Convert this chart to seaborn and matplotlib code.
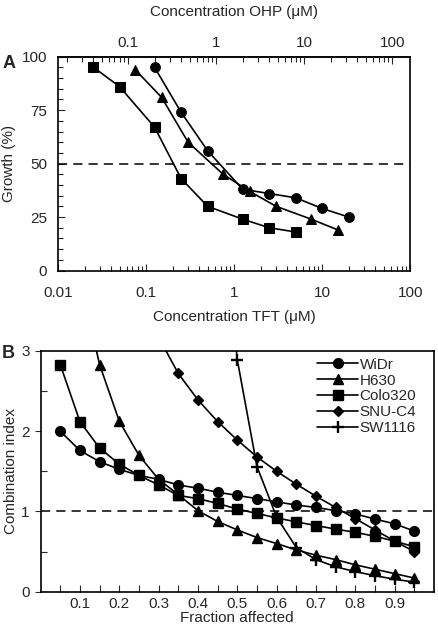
import numpy as np
import pandas as pd
import matplotlib
matplotlib.use("Agg")
import matplotlib.pyplot as plt
from matplotlib.ticker import LogLocator, FixedLocator, NullFormatter, MultipleLocator, FuncFormatter
import seaborn as sns

sns.set_style("ticks")
plt.rcParams['font.family'] = ['Liberation Sans', 'DejaVu Sans']
plt.rcParams['font.size'] = 11

# ---------- Panel A data ----------
tft_colo = [0.025, 0.05, 0.125, 0.25, 0.5, 1.25, 2.5, 5]
growth_colo = [95.2, 86, 67, 43, 30, 24, 20, 18]
tft_h630 = [0.075, 0.15, 0.3, 0.75, 1.5, 3, 7.5, 15]
growth_h630 = [94, 81, 60, 45, 37, 30, 24, 19]
tft_widr = [0.125, 0.25, 0.5, 1.25, 2.5, 5, 10, 20]
growth_widr = [95, 74, 56, 38, 36, 34, 29, 25]
ohp_per_tft = 1.6

# ---------- Panel B data ----------
fa_all = [0.05, 0.1, 0.15, 0.2, 0.25, 0.3, 0.35, 0.4, 0.45, 0.5,
          0.55, 0.6, 0.65, 0.7, 0.75, 0.8, 0.85, 0.9, 0.95]
ci_widr = [2.0, 1.76, 1.62, 1.525, 1.45, 1.40, 1.33, 1.29, 1.24, 1.20,
           1.16, 1.12, 1.08, 1.05, 1.01, 0.97, 0.905, 0.846, 0.755]
ci_colo = [2.83, 2.12, 1.79, 1.59, 1.45, 1.33, 1.20, 1.16, 1.10, 1.03,
           0.975, 0.92, 0.87, 0.825, 0.78, 0.74, 0.69, 0.63, 0.56]
fa_h630 = fa_all[1:]
ci_h630 = [3.9, 2.83, 2.125, 1.70, 1.40, 1.21, 1.01, 0.875, 0.77, 0.675,
           0.60, 0.52, 0.455, 0.40, 0.335, 0.28, 0.225, 0.17]
fa_snu = fa_all[5:]
ci_snu = [3.17, 2.72, 2.39, 2.12, 1.89, 1.68, 1.50, 1.34, 1.19, 1.05,
          0.91, 0.77, 0.63, 0.50]
fa_sw = fa_all[8:]
ci_sw = [5.3, 2.89, 1.56, 0.93, 0.55, 0.40, 0.31, 0.25, 0.20, 0.155, 0.12]

W, H = 438, 636
fig = plt.figure(figsize=(W / 100, H / 100), dpi=100)

def frac(l, t, r, b):
    return [l / W, 1 - b / H, (r - l) / W, (b - t) / H]

axA = fig.add_axes(frac(58, 56.7, 410.3, 270.5))
axB = fig.add_axes(frac(40.6, 351, 434, 591.7))

lw = 1.2
fmt_g = FuncFormatter(lambda v, p: f"{v:g}")
# ---------- Panel A ----------
axA.set_xscale('log')
sA = [(tft_colo, growth_colo, 's', 7), (tft_h630, growth_h630, '^', 7),
      (tft_widr, growth_widr, 'o', 7)]
for xs, ys, m, ms in sA:
    sns.lineplot(x=xs, y=ys, ax=axA, color='black', marker=m, markersize=ms,
                 markeredgecolor='black', linewidth=lw, estimator=None, sort=False)
axA.axhline(50, color='black', linestyle=(0, (6, 4)), linewidth=1.1)
axA.set_xlim(0.01, 100)
axA.set_ylim(0, 100)
axA.set_yticks([0, 25, 50, 75, 100])
axA.yaxis.set_minor_locator(MultipleLocator(5))
axA.xaxis.set_major_locator(LogLocator(base=10, numticks=10))
axA.xaxis.set_minor_locator(LogLocator(base=10, subs=np.arange(2, 10), numticks=10))
axA.xaxis.set_minor_formatter(NullFormatter())
axA.xaxis.set_major_formatter(fmt_g)
axA.tick_params(axis='both', which='major', direction='in', length=5, width=0.8,
                labelsize=11, top=False, right=False)
axA.tick_params(axis='x', which='major', pad=11)
axA.tick_params(axis='y', which='major', pad=8)
axA.tick_params(axis='both', which='minor', direction='in', length=3.5, width=0.8,
                top=False, right=False)
axA.set_xlabel('Concentration TFT (μM)', fontsize=11, labelpad=7)
axA.set_ylabel('Growth (%)', fontsize=11)
axA.yaxis.set_label_coords(-0.118, 0.5)
secA = axA.secondary_xaxis('top', functions=(lambda x: x * ohp_per_tft,
                                              lambda x: x / ohp_per_tft))
secA.set_xscale('log')
secA.xaxis.set_major_locator(FixedLocator([0.1, 1, 10, 100]))
secA.xaxis.set_minor_locator(LogLocator(base=10, subs=np.arange(2, 10), numticks=10))
secA.xaxis.set_minor_formatter(NullFormatter())
secA.xaxis.set_major_formatter(fmt_g)
secA.tick_params(axis='x', which='major', direction='in', length=5, width=0.8, labelsize=11, pad=5)
secA.tick_params(axis='x', which='minor', direction='in', length=3.5, width=0.8)
secA.set_xlabel('Concentration OHP (μM)', fontsize=11, labelpad=14)

# ---------- Panel B ----------
sB = [(fa_all, ci_widr, 'o', 7, 'WiDr', 1.0),
      (fa_h630, ci_h630, '^', 7, 'H630', 1.0),
      (fa_all, ci_colo, 's', 7, 'Colo320', 1.0),
      (fa_snu, ci_snu, 'D', 4.8, 'SNU-C4', 1.0),
      (fa_sw, ci_sw, '+', 8.5, 'SW1116', 1.7)]
for xs, ys, m, ms, lab, mew in sB:
    sns.lineplot(x=xs, y=ys, ax=axB, color='black', marker=m, markersize=ms,
                 markeredgecolor='black', markeredgewidth=mew, linewidth=lw,
                 estimator=None, sort=False, label=lab)
axB.axhline(1, color='black', linestyle=(0, (6, 4)), linewidth=1.1)
axB.set_xlim(0, 1)
axB.set_ylim(0, 3)
axB.set_yticks([0, 1, 2, 3])
axB.yaxis.set_minor_locator(FixedLocator([0.5, 1.5, 2.5]))
axB.set_xticks([0.1, 0.2, 0.3, 0.4, 0.5, 0.6, 0.7, 0.8, 0.9])
axB.xaxis.set_major_formatter(FuncFormatter(lambda v, p: f"{v:.1f}"))
axB.xaxis.set_minor_locator(FixedLocator([0.05, 0.15, 0.25, 0.35, 0.45, 0.55,
                                          0.65, 0.75, 0.85, 0.95]))
axB.tick_params(axis='x', which='both', direction='in', length=5, width=0.8,
                labelsize=11, pad=4)
axB.tick_params(axis='y', which='major', direction='out', length=4, width=0.8,
                labelsize=11, pad=4)
axB.tick_params(axis='y', which='minor', direction='in', length=4, width=0.8)
axB.set_xlabel('Fraction affected', fontsize=11, labelpad=0)
axB.set_ylabel('Combination index', fontsize=11)
axB.yaxis.set_label_coords(-0.058, 0.5)
leg = axB.legend(loc='upper right', bbox_to_anchor=(0.955, 0.972), frameon=False,
                 fontsize=11, handlelength=2.7, handletextpad=0.1,
                 labelspacing=0.12, borderaxespad=0, borderpad=0)

for ax in (axA, axB):
    for sp in ax.spines.values():
        sp.set_visible(True)
        sp.set_linewidth(1.2)
        sp.set_color('black')
for sp in secA.spines.values():
    sp.set_linewidth(1.2)

fig.text(3 / W, 1 - 63 / H, 'A', fontsize=13, fontweight='bold', va='center', ha='left')
fig.text(2 / W, 1 - 354 / H, 'B', fontsize=13, fontweight='bold', va='center', ha='left')

fig.savefig('out.png', dpi=100)
